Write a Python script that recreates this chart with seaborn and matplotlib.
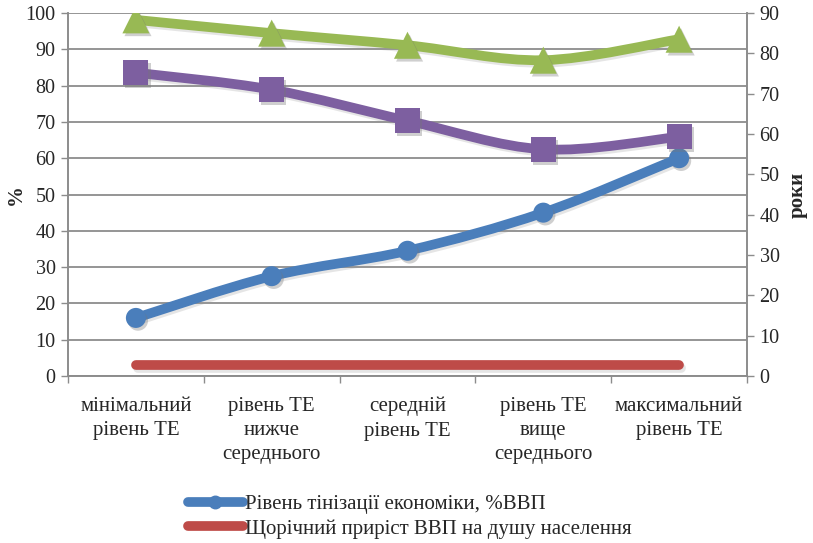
import numpy as np
import pandas as pd
import seaborn as sns
import matplotlib
matplotlib.use("Agg")
import matplotlib.pyplot as plt
from matplotlib.path import Path
from matplotlib.patches import PathPatch
from matplotlib.lines import Line2D
import matplotlib.patheffects as pe

categories = [
    "мінімальний\nрівень ТЕ",
    "рівень ТЕ\nнижче\nсереднього",
    "середній\nрівень ТЕ",
    "рівень ТЕ\nвище\nсереднього",
    "максимальний\nрівень ТЕ",
]
shadow_pct = [16, 27.5, 34.5, 45, 60]          # Рівень тінізації економіки, %ВВП
gdp_growth = [3, 3, 3, 3, 3]                  # Щорічний приріст ВВП на душу населення, %
years_a = [75.2, 71.0, 63.3, 56.2, 59.3]      # роки
years_b = [88.3, 85.0, 82.0, 78.3, 83.5]      # роки

left_ticks = list(range(0, 101, 10))
right_ticks = list(range(0, 91, 10))

BLUE = "#4A7EBB"
RED = "#BE4B48"
PURPLE = "#7D5FA0"
GREEN = "#98B954"
GRID = "#8C8C8C"

sns.set_theme(style="white")
plt.rcParams["font.family"] = ["Liberation Serif", "DejaVu Serif"]

fig = plt.figure(figsize=(8.13, 5.43), dpi=100)
ax = fig.add_axes([68 / 813, 1 - 376 / 543, (747 - 68) / 813, (376 - 13) / 543])
ax2 = ax.twinx()

xs = np.arange(len(categories))
df = pd.DataFrame({"x": xs, "shadow": shadow_pct, "growth": gdp_growth,
                   "ya": years_a, "yb": years_b})

LW = 7.0
marker_fx = [pe.SimplePatchShadow(offset=(1.5, -2), shadow_rgbFace="#777777", alpha=0.35), pe.Normal()]
line_fx = [pe.SimpleLineShadow(offset=(1.2, -1.8), shadow_color="#999999", alpha=0.25), pe.Normal()]


def smooth_path(x, y):
    """Cubic Bezier path through the points (Catmull-Rom style tangents)."""
    pts = np.column_stack([x, y]).astype(float)
    ext = np.vstack([pts[0], pts, pts[-1]])
    verts = [pts[0]]
    codes = [Path.MOVETO]
    for i in range(len(pts) - 1):
        p0, p1, p2, p3 = ext[i], ext[i + 1], ext[i + 2], ext[i + 3]
        c1 = p1 + (p2 - p0) / 6.0
        c2 = p2 - (p3 - p1) / 6.0
        verts += [c1, c2, p2]
        codes += [Path.CURVE4] * 3
    return Path(verts, codes)


def draw_smooth(axis, x, y, color, z):
    patch = PathPatch(smooth_path(x, y), fill=False, edgecolor=color, lw=LW,
                      capstyle="round", joinstyle="round", zorder=z)
    patch.set_path_effects(line_fx)
    axis.add_patch(patch)


# series on the left (%) axis
draw_smooth(ax, df["x"], df["shadow"], BLUE, 3)
sns.lineplot(data=df, x="x", y="growth", ax=ax, color=RED, lw=LW,
             solid_capstyle="round", zorder=3, legend=False)
ax.lines[-1].set_path_effects(line_fx)
sns.scatterplot(data=df, x="x", y="shadow", ax=ax, color=BLUE, marker="o",
                s=20 ** 2 * 0.52, linewidth=0, zorder=4, legend=False)
ax.collections[-1].set_path_effects(marker_fx)

# series on the right (роки) axis
draw_smooth(ax2, df["x"], df["ya"], PURPLE, 3)
draw_smooth(ax2, df["x"], df["yb"], GREEN, 3)
sns.scatterplot(data=df, x="x", y="ya", ax=ax2, color=PURPLE, marker="s",
                s=25 ** 2 * 0.52, linewidth=0, zorder=4, legend=False)
ax2.collections[-1].set_path_effects(marker_fx)
sns.scatterplot(data=df, x="x", y="yb", ax=ax2, color=GREEN, marker="^",
                s=27 ** 2 * 0.52, linewidth=0, zorder=4, legend=False)
ax2.collections[-1].set_path_effects(marker_fx)

# axes limits and ticks
ax.set_xlim(-0.5, len(categories) - 0.5)
ax.set_ylim(0, 100)
ax2.set_ylim(0, 90)
ax.set_yticks(left_ticks)
ax2.set_yticks(right_ticks)
ax.set_xticks(np.arange(-0.5, len(categories), 1.0))
ax.set_xticklabels([])
ax.set_xticks(xs, minor=True)
ax.set_xticklabels(categories, minor=True, fontsize=15, linespacing=1.38)

ax.tick_params(axis="x", which="major", length=5, width=1, color=GRID, direction="out", bottom=True)
ax.tick_params(axis="x", which="minor", length=0, pad=15, bottom=True)
ax.tick_params(axis="y", length=5, width=1, color=GRID, direction="out", labelsize=14.5, pad=4, left=True)
ax2.tick_params(axis="y", length=5, width=1, color=GRID, direction="out", labelsize=14.5, pad=4, right=True)

ax.grid(axis="y", color=GRID, lw=1.3)
ax.grid(axis="x", visible=False)
ax2.grid(False)
for a in (ax, ax2):
    for side in ("left", "right", "bottom"):
        a.spines[side].set_color(GRID)
        a.spines[side].set_linewidth(1.2)
    a.spines["top"].set_visible(False)
ax.set_xlabel("")
ax.set_ylabel("%", fontsize=15, fontweight="bold", labelpad=0)
ax2.set_ylabel("роки", fontsize=15, fontweight="bold", labelpad=6, rotation=90)

# legend below the plot
handles = [
    Line2D([], [], color=BLUE, lw=LW, marker="o", markersize=9, solid_capstyle="round"),
    Line2D([], [], color=RED, lw=LW, solid_capstyle="round"),
]
labels = ["Рівень тінізації економіки, %ВВП", "Щорічний приріст ВВП на душу населення"]
fig.legend(handles, labels, loc="upper left", bbox_to_anchor=(180 / 813, 1 - 486 / 543),
           frameon=False, fontsize=15, handlelength=2.6, handletextpad=0.12,
           labelspacing=0.25, borderaxespad=0)

fig.savefig("out.png", dpi=100)
